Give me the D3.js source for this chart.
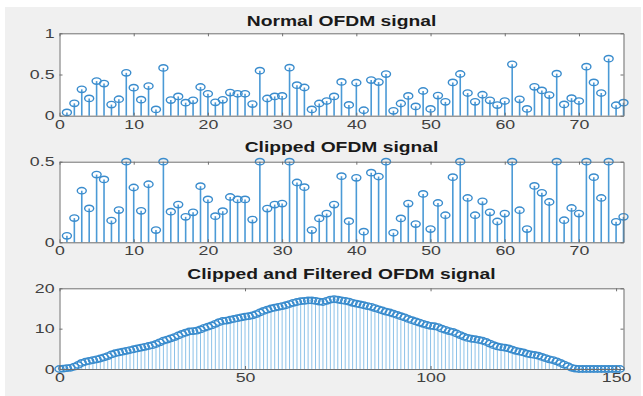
<!DOCTYPE html>
<html>
<head>
<meta charset="utf-8">
<script src="https://cdn.jsdelivr.net/npm/d3@7"></script>
<style>
  body { margin: 0; background: #fff; }
  svg { display: block; }
</style>
</head>
<body>
<svg id="chart" width="643" height="396"></svg>
<script>
// sample values
const normalSignal = [
  0.04, 0.15, 0.32, 0.21, 0.42, 0.39, 0.135, 0.20, 0.52, 0.34,
  0.195, 0.36, 0.076, 0.58, 0.19, 0.234, 0.158, 0.186, 0.348, 0.266,
  0.162, 0.193, 0.281, 0.266, 0.266, 0.141, 0.547, 0.209, 0.234, 0.24,
  0.583, 0.371, 0.342, 0.076, 0.148, 0.178, 0.234, 0.41, 0.131, 0.40,
  0.066, 0.432, 0.408, 0.505, 0.059, 0.148, 0.24, 0.113, 0.30, 0.082,
  0.244, 0.168, 0.404, 0.506, 0.275, 0.168, 0.254, 0.186, 0.129, 0.178,
  0.623, 0.199, 0.082, 0.35, 0.307, 0.25, 0.51, 0.137, 0.213, 0.178,
  0.595, 0.404, 0.275, 0.692, 0.127, 0.158
];
const clippedSignal = [
  0.04, 0.15, 0.32, 0.21, 0.42, 0.39, 0.135, 0.20, 0.5, 0.34,
  0.195, 0.36, 0.076, 0.5, 0.19, 0.234, 0.158, 0.186, 0.348, 0.266,
  0.162, 0.193, 0.281, 0.266, 0.266, 0.141, 0.5, 0.209, 0.234, 0.24,
  0.5, 0.371, 0.342, 0.076, 0.148, 0.178, 0.234, 0.41, 0.131, 0.40,
  0.066, 0.432, 0.408, 0.5, 0.059, 0.148, 0.24, 0.113, 0.30, 0.082,
  0.244, 0.168, 0.404, 0.5, 0.275, 0.168, 0.254, 0.186, 0.129, 0.178,
  0.5, 0.199, 0.082, 0.35, 0.307, 0.25, 0.5, 0.137, 0.213, 0.178,
  0.5, 0.404, 0.275, 0.5, 0.127, 0.158
];
const filteredSignal = [
  0, 0.1, 0.2, 0.3, 0.6, 1.0, 1.5, 1.8, 2.0, 2.2,
  2.4, 2.6, 2.9, 3.2, 3.6, 3.9, 4.1, 4.3, 4.5, 4.7,
  4.9, 5.1, 5.3, 5.5, 5.7, 5.9, 6.2, 6.6, 7.0, 7.3,
  7.6, 7.9, 8.3, 8.7, 9.0, 9.3, 9.4, 9.5, 9.8, 10.2,
  10.5, 10.8, 11.2, 11.6, 11.9, 12.0, 12.2, 12.4, 12.6, 12.8,
  13.0, 13.1, 13.3, 13.6, 14.0, 14.4, 14.7, 15.0, 15.2, 15.4,
  15.6, 15.8, 16.1, 16.4, 16.6, 16.8, 16.9, 17.0, 17.0, 16.9,
  16.7, 16.6, 16.9, 17.2, 17.3, 17.2, 17.0, 16.9, 16.7, 16.4,
  16.2, 16.0, 15.8, 15.6, 15.4, 15.1, 14.8, 14.5, 14.2, 14.0,
  13.7, 13.4, 13.1, 12.8, 12.4, 12.1, 11.8, 11.5, 11.2, 10.9,
  10.7, 10.6, 10.4, 10.0, 9.7, 9.4, 9.2, 8.8, 8.4, 8.0,
  7.7, 7.5, 7.4, 7.2, 7.0, 6.7, 6.3, 5.9, 5.6, 5.4,
  5.3, 5.1, 4.8, 4.5, 4.3, 4.1, 3.8, 3.6, 3.5, 3.3,
  3.0, 2.7, 2.4, 2.2, 1.9, 1.5, 1.1, 0.7, 0.3, 0.1,
  0, 0, 0, 0, 0, 0, 0, 0, 0, 0,
  0, 0
];
const titles = ["Normal OFDM signal", "Clipped OFDM signal", "Clipped and Filtered OFDM signal"];
const ticksTop = [0, 0.5, 1];
const ticksMid = [0, 0.5];
const ticksBottom = [0, 10, 20];
const ticksX76 = [0, 10, 20, 30, 40, 50, 60, 70];
const ticksX152 = [0, 50, 100, 150];

const svg = d3.select("#chart");
const stretch = 1.42; // the source picture is stretched sideways
const fmt = d3.format("~g");

svg.append("rect")
  .attr("x", 5).attr("y", 7)
  .attr("width", 636).attr("height", 389)
  .attr("fill", "#f0f0f0");

const left = 59.5, right = 623.5;

const panels = [
  { data: normalSignal, start: 1, xMax: 76, yMax: 1, yTicks: ticksTop, xTicks: ticksX76, top: 33.3, bottom: 115.7, titleY: 25.5, dense: false },
  { data: clippedSignal, start: 1, xMax: 76, yMax: 0.5, yTicks: ticksMid, xTicks: ticksX76, top: 161.7, bottom: 242.3, titleY: 152, dense: false },
  { data: filteredSignal, start: 0, xMax: 152, yMax: 20, yTicks: ticksBottom, xTicks: ticksX152, top: 288.3, bottom: 369, titleY: 278.5, dense: true }
];

panels.forEach((p, i) => {
  const x = d3.scaleLinear().domain([0, p.xMax]).range([left, right]);
  const y = d3.scaleLinear().domain([0, p.yMax]).range([p.bottom, p.top]);
  const pts = p.data.map((v, k) => ({ n: k + p.start, v: v }));

  const g = svg.append("g");

  g.append("rect")
    .attr("x", left).attr("y", p.top)
    .attr("width", right - left).attr("height", p.bottom - p.top)
    .attr("fill", "#fff");

  // stems
  g.append("g").selectAll("line")
    .data(pts)
    .join("line")
    .attr("x1", d => x(d.n)).attr("x2", d => x(d.n))
    .attr("y1", y(0)).attr("y2", d => y(d.v))
    .attr("stroke", p.dense ? "#8cc2e8" : "#4b9ad6")
    .attr("stroke-width", p.dense ? 1 : 1.6);

  // markers
  g.append("g").selectAll("ellipse")
    .data(pts)
    .join("ellipse")
    .attr("cx", d => x(d.n)).attr("cy", d => y(d.v))
    .attr("rx", 4.5).attr("ry", 3.2)
    .attr("fill", "none")
    .attr("stroke", "#3a8ccd")
    .attr("stroke-width", 1.4);

  // axes, ticks pointing inwards like MATLAB
  const axB = g.append("g")
    .attr("transform", `translate(0,${p.bottom})`)
    .call(d3.axisBottom(x).tickValues(p.xTicks).tickSize(-3).tickPadding(4).tickSizeOuter(0));
  const axT = g.append("g")
    .attr("transform", `translate(0,${p.top})`)
    .call(d3.axisTop(x).tickValues(p.xTicks).tickSize(-3).tickFormat("").tickSizeOuter(0));
  const axL = g.append("g")
    .attr("transform", `translate(${left},0)`)
    .call(d3.axisLeft(y).tickValues(p.yTicks).tickFormat(fmt).tickSize(-3).tickPadding(4).tickSizeOuter(0));
  const axR = g.append("g")
    .attr("transform", `translate(${right},0)`)
    .call(d3.axisRight(y).tickValues(p.yTicks).tickSize(-3).tickFormat("").tickSizeOuter(0));

  [axB, axT, axL, axR].forEach(a => {
    a.select(".domain").attr("stroke", "#6e6e6e");
    a.selectAll(".tick line").attr("stroke", "#6e6e6e");
    a.selectAll("text")
      .attr("fill", "#404040")
      .style("font-family", "'Liberation Sans', Arial, sans-serif")
      .style("font-size", "12.5px");
  });
  axB.selectAll(".tick text").attr("transform", `scale(${stretch},1)`);
  axL.selectAll(".tick text").attr("transform", `scale(${stretch},1)`).attr("x", -3.5);

  svg.append("text")
    .attr("transform", `translate(${(left + right) / 2},${p.titleY}) scale(1.33,1)`)
    .attr("text-anchor", "middle")
    .attr("fill", "#1a1a1a")
    .style("font-family", "'Liberation Sans', Arial, sans-serif")
    .style("font-weight", "bold")
    .style("font-size", "14.5px")
    .text(titles[i]);
});
</script>
</body>
</html>
